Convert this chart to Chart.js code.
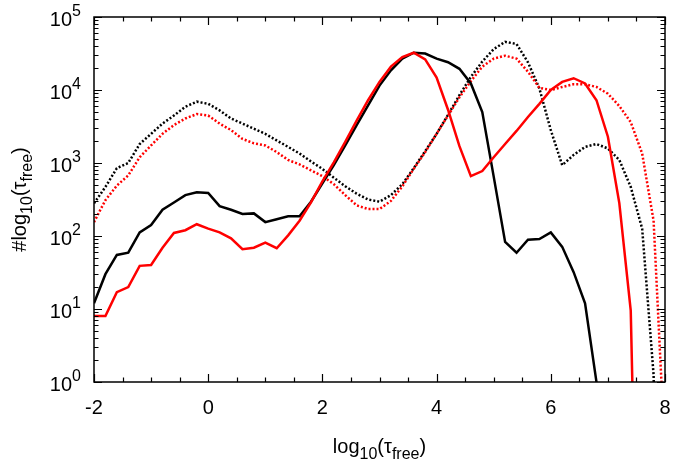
<!DOCTYPE html>
<html>
<head>
<meta charset="utf-8">
<script src="https://cdn.jsdelivr.net/npm/chart.js@4/dist/chart.umd.min.js"></script>
<style>
  html, body { margin: 0; padding: 0; background: #fff; }
  #wrap { width: 675px; height: 464px; }
</style>
</head>
<body>
<div id="wrap"><canvas id="myChart" width="675" height="464"></canvas></div>
<script>
// log10(tau_free) bins
const logTau = [
  -2.0, -1.8, -1.6, -1.4, -1.2, -1.0, -0.8, -0.6, -0.4, -0.2,
   0.0,  0.2,  0.4,  0.6,  0.8,  1.0,  1.2,  1.4,  1.6,  1.8,
   2.0,  2.2,  2.4,  2.6,  2.8,  3.0,  3.2,  3.4,  3.6,  3.8,
   4.0,  4.2,  4.4,  4.6,  4.8,  5.0,  5.2,  5.4,  5.6,  5.8,
   6.0,  6.2,  6.4,  6.6,  6.8,  7.0,  7.2,  7.4,  7.6,  7.8,
   8.0
];

// counts per bin (1e-6 stands for an empty bin, it falls below the axis)
const blackSolid = [
  12, 30, 55, 59, 112, 141, 229, 288, 363, 398,
  389, 257, 229, 200, 204, 155, 170, 186, 186, 295,
  525, 933, 1740, 3310, 6170, 11500, 18600, 26900, 32400, 31600,
  26900, 24000, 19500, 12300, 5000, 650, 83, 59, 89, 91,
  112, 71, 32, 12, 1, 1e-6, null, null, null, null,
  null
];
const redSolid = [
  8, 8, 17, 20, 39, 40, 69, 110, 120, 145,
  126, 112, 93, 66, 69, 81, 68, 102, 162, 288,
  562, 1020, 1950, 3800, 7240, 12900, 20900, 28200, 32400, 26300,
  14800, 5370, 1700, 660, 776, 1200, 1820, 2750, 4270, 6460,
  10000, 12900, 14500, 12300, 7240, 2290, 282, 9.5, 1e-6, null,
  null
];
const blackDotted = [
  280, 470, 850, 1000, 1820, 2510, 3470, 4470, 5890, 6920,
  6460, 5250, 4070, 3470, 2950, 2510, 2040, 1660, 1350, 1050,
  830, 630, 480, 380, 316, 295, 363, 513, 850, 1450,
  2510, 4570, 8510, 15100, 24500, 36300, 45700, 42700, 24000, 10500,
  2820, 933, 1290, 1660, 1820, 1580, 1100, 470, 126, 1.26,
  1e-6
];
const redDotted = [
  155, 310, 490, 676, 1200, 1740, 2510, 3310, 4070, 4680,
  4470, 3470, 2820, 2140, 1860, 1740, 1410, 1100, 955, 795,
  660, 513, 363, 263, 234, 234, 302, 479, 832, 1410,
  2510, 4470, 7940, 13200, 20900, 26900, 29500, 26900, 17800, 10700,
  10000, 11000, 12000, 12000, 11000, 8900, 6030, 3630, 1350, 162,
  0.1
];

const xTickValues = [-2, 0, 2, 4, 6, 8];
const xTickLabels = ['-2', '0', '2', '4', '6', '8'];
const yTickValues = [1, 10, 100, 1000, 10000, 100000];
const yTickExponents = ['0', '1', '2', '3', '4', '5'];

const FONT = "'Liberation Sans', Arial, Helvetica, sans-serif";
const FS = 20;

function toPoints(arr) {
  return logTau.map((x, i) => ({ x: x, y: arr[i] }));
}

// draw text made of pieces, some of them sub/superscript
function richWidth(ctx, parts, size) {
  let w = 0;
  parts.forEach((p) => {
    const s = (p.sub || p.sup) ? size * 0.8 : size;
    ctx.font = s + 'px ' + FONT;
    w += ctx.measureText(p.t).width;
  });
  return w;
}

function drawRich(ctx, parts, x, y, size, align) {
  let w = richWidth(ctx, parts, size);
  let cx = x;
  if (align === 'center') cx = x - w / 2;
  if (align === 'right') cx = x - w;
  ctx.textAlign = 'left';
  ctx.textBaseline = 'alphabetic';
  parts.forEach((p) => {
    const s = (p.sub || p.sup) ? size * 0.8 : size;
    let dy = 0;
    if (p.sub) dy = size * 0.3;
    if (p.sup) dy = -size * 0.48;
    ctx.font = s + 'px ' + FONT;
    ctx.fillText(p.t, cx, y + dy);
    cx += ctx.measureText(p.t).width;
  });
}

const framePlugin = {
  id: 'frame',
  afterDraw(chart) {
    const ctx = chart.ctx;
    const a = chart.chartArea;
    const xs = chart.scales.x;
    const ys = chart.scales.y;
    ctx.save();
    ctx.strokeStyle = '#000';
    ctx.fillStyle = '#000';
    ctx.lineWidth = 1.5;
    ctx.strokeRect(a.left, a.top, a.right - a.left, a.bottom - a.top);

    const major = 8, minor = 4.5;
    ctx.lineWidth = 1.2;
    ctx.beginPath();
    // x ticks, inward on bottom and top
    for (let v = -2; v <= 8.001; v += 0.5) {
      const px = Math.round(xs.getPixelForValue(v)) + 0.5;
      const len = (Math.abs(v % 2) < 0.001) ? major : minor;
      ctx.moveTo(px, a.bottom); ctx.lineTo(px, a.bottom - len);
      ctx.moveTo(px, a.top); ctx.lineTo(px, a.top + len);
    }
    // y ticks, inward on left and right
    for (let e = 0; e < 5; e++) {
      for (let m = 1; m <= 10; m++) {
        const v = m * Math.pow(10, e);
        const py = Math.round(ys.getPixelForValue(v)) + 0.5;
        const len = (m === 1 || m === 10) ? major : minor;
        ctx.moveTo(a.left, py); ctx.lineTo(a.left + len, py);
        ctx.moveTo(a.right, py); ctx.lineTo(a.right - len, py);
      }
    }
    ctx.stroke();

    // x tick labels
    xTickValues.forEach((v, i) => {
      drawRich(ctx, [{ t: xTickLabels[i] }], xs.getPixelForValue(v), 414, FS, 'center');
    });
    // y tick labels 10^n
    yTickValues.forEach((v, i) => {
      const py = ys.getPixelForValue(v);
      drawRich(ctx, [{ t: '10' }, { t: yTickExponents[i], sup: true }], 81, py + 9, FS, 'right');
    });

    // axis titles
    const xTitle = [{ t: 'log' }, { t: '10', sub: true }, { t: '(τ' }, { t: 'free', sub: true }, { t: ')' }];
    drawRich(ctx, xTitle, (a.left + a.right) / 2, 453, FS, 'center');

    const yTitle = [{ t: '#log' }, { t: '10', sub: true }, { t: '(τ' }, { t: 'free', sub: true }, { t: ')' }];
    ctx.save();
    ctx.translate(26, (a.top + a.bottom) / 2);
    ctx.rotate(-Math.PI / 2);
    drawRich(ctx, yTitle, 0, 0, FS, 'center');
    ctx.restore();

    ctx.restore();
  }
};

const chart = new Chart(document.getElementById('myChart').getContext('2d'), {
  type: 'line',
  data: {
    datasets: [
      {
        data: toPoints(redSolid),
        borderColor: '#ff0000',
        borderWidth: 2.5
      },
      {
        data: toPoints(blackSolid),
        borderColor: '#000000',
        borderWidth: 2.5
      },
      {
        data: toPoints(redDotted),
        borderColor: '#ff0000',
        borderWidth: 2.5,
        borderDash: [2, 2]
      },
      {
        data: toPoints(blackDotted),
        borderColor: '#000000',
        borderWidth: 2.5,
        borderDash: [2, 2]
      }
    ]
  },
  options: {
    responsive: false,
    animation: false,
    devicePixelRatio: 1,
    elements: {
      point: { radius: 0 },
      line: { tension: 0, fill: false, borderCapStyle: 'butt', borderJoinStyle: 'miter' }
    },
    layout: { padding: { top: 17, right: 10, left: 0, bottom: 0 } },
    plugins: {
      legend: { display: false },
      tooltip: { enabled: false },
      title: { display: false }
    },
    scales: {
      x: {
        type: 'linear',
        min: -2,
        max: 8,
        ticks: { display: false },
        grid: { display: false, drawTicks: false },
        border: { display: false },
        afterFit: (s) => { s.height = 82; }
      },
      y: {
        type: 'logarithmic',
        min: 1,
        max: 100000,
        ticks: { display: false },
        grid: { display: false, drawTicks: false },
        border: { display: false },
        afterFit: (s) => { s.width = 94; }
      }
    }
  },
  plugins: [framePlugin]
});
</script>
</body>
</html>
